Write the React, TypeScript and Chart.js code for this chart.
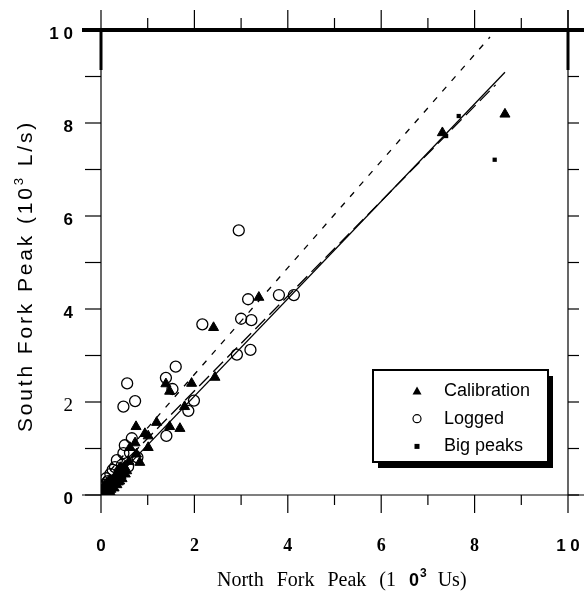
import React, { useEffect, useRef } from 'react';
import { Chart, registerables } from 'chart.js';

Chart.register(...registerables);

// Calibration (triangles)
const calibrationX = [8.65, 7.31, 3.38, 2.41, 2.44, 1.39, 1.47, 1.94, 1.79, 1.47, 1.69, 1.19, 0.75, 0.94, 1.01, 1.01, 0.62, 0.83, 0.76, 0.41, 0.73,
  0.05, 0.08, 0.1, 0.12, 0.15, 0.18, 0.19, 0.22, 0.26, 0.28, 0.3, 0.34, 0.36, 0.4, 0.41, 0.45, 0.48, 0.5, 0.55, 0.6, 0.07, 0.03, 0.2,
  0.02, 0.06, 0.09, 0.13, 0.16, 0.21, 0.24, 0.27, 0.31, 0.33, 0.37, 0.43, 0.52, 0.38, 0.46];
const calibrationY = [8.19, 7.79, 4.25, 3.6, 2.53, 2.39, 2.23, 2.4, 1.9, 1.47, 1.43, 1.56, 1.47, 1.32, 1.27, 1.02, 1.02, 0.7, 0.88, 0.59, 1.12,
  0.07, 0.12, 0.05, 0.18, 0.25, 0.1, 0.3, 0.2, 0.29, 0.15, 0.38, 0.22, 0.45, 0.3, 0.39, 0.35, 0.47, 0.6, 0.52, 0.72, 0.2, 0.1, 0.05,
  0.03, 0.15, 0.08, 0.1, 0.16, 0.12, 0.24, 0.35, 0.27, 0.33, 0.28, 0.42, 0.45, 0.52, 0.55];

// Logged (open circles)
const loggedX = [2.95, 3.15, 3.81, 4.13, 3.0, 3.22, 2.17, 2.91, 3.2, 1.6, 1.39, 1.53, 0.56, 0.48, 0.73, 1.99, 1.87, 1.4, 0.66, 0.51, 0.62, 0.34, 0.25, 0.58, 0.48, 0.11, 0.78,
  0.3, 0.2, 0.15, 0.4, 0.45, 0.08, 0.22, 0.05];
const loggedY = [5.69, 4.21, 4.3, 4.3, 3.79, 3.76, 3.67, 3.02, 3.12, 2.76, 2.52, 2.28, 2.4, 1.9, 2.02, 2.03, 1.81, 1.27, 1.22, 1.07, 0.91, 0.75, 0.54, 0.61, 0.9, 0.36, 0.81,
  0.6, 0.45, 0.3, 0.5, 0.65, 0.22, 0.3, 0.15];

// Big peaks (small squares)
const bigX = [7.66, 8.43, 7.39];
const bigY = [8.15, 7.21, 7.72];

// Fitted / reference lines (end points)
const solidX = [0, 8.65];
const solidY = [0.03, 9.09];
const longDashX = [0, 8.45];
const longDashY = [0.2, 8.82];
const shortDashX = [0, 8.33];
const shortDashY = [0.3, 9.85];

const tickValues = [0, 2, 4, 6, 8, 10];
const tickLabels = ['0', '2', '4', '6', '8', '1 0'];

const legendItems = ['Calibration', 'Logged', 'Big peaks'];

const toPts = (xs: number[], ys: number[]) => xs.map((x, i) => ({ x, y: ys[i] }));
const labelFor = (v: number) => {
  const i = tickValues.indexOf(v);
  return i >= 0 ? tickLabels[i] : '';
};

function drawMarker(ctx: CanvasRenderingContext2D, kind: number, x: number, y: number) {
  ctx.fillStyle = '#000';
  ctx.strokeStyle = '#000';
  if (kind === 0) {
    ctx.beginPath();
    ctx.moveTo(x, y - 4.5);
    ctx.lineTo(x + 4.5, y + 3.5);
    ctx.lineTo(x - 4.5, y + 3.5);
    ctx.closePath();
    ctx.fill();
  } else if (kind === 1) {
    ctx.lineWidth = 1.2;
    ctx.beginPath();
    ctx.arc(x, y, 4, 0, Math.PI * 2);
    ctx.stroke();
  } else {
    ctx.fillRect(x - 2.5, y - 2.5, 5, 5);
  }
}

const framePlugin = {
  id: 'frame',
  afterDraw(chart: any) {
    const { ctx, chartArea: a, scales } = chart;
    const xs = scales.x;
    const ys = scales.y;
    ctx.save();
    ctx.strokeStyle = '#000';
    ctx.lineCap = 'butt';
    const line = (x1: number, y1: number, x2: number, y2: number, w: number) => {
      ctx.lineWidth = w;
      ctx.beginPath();
      ctx.moveTo(x1, y1);
      ctx.lineTo(x2, y2);
      ctx.stroke();
    };
    line(82, a.bottom, 584, a.bottom, 1.2);
    line(a.left, a.top, a.left, a.bottom, 1.2);
    line(a.right, 10, a.right, a.bottom, 1.2);
    line(82, a.top, 584, a.top, 4);
    line(a.left, a.top, a.left, a.top + 40, 3);
    line(a.right, a.top, a.right, a.top + 40, 3);
    for (let v = 0; v <= 10; v++) {
      const major = v % 2 === 0;
      const px = xs.getPixelForValue(v);
      const py = ys.getPixelForValue(v);
      line(px, a.bottom, px, a.bottom + (major ? 18 : 10), 1.2);
      line(px, a.top, px, a.top - (major ? 20 : 12), 1.2);
      line(a.left - 16, py, a.left, py, 1.2);
      line(a.right, py, a.right + 11, py, 1.2);
    }

    // X title
    ctx.fillStyle = '#000';
    ctx.textBaseline = 'alphabetic';
    ctx.textAlign = 'left';
    const serif = '20px "Liberation Serif", "DejaVu Serif", serif';
    const pieces: [string, string][] = [
      ['North', serif], ['Fork', serif], ['Peak', serif], ['(1', serif], ['0', 'bold 18px "Liberation Sans", Arial, sans-serif'],
    ];
    let cx = 217;
    const by = 586;
    pieces.forEach(([t, f], i) => {
      ctx.font = f;
      ctx.fillText(t, cx, by);
      cx += ctx.measureText(t).width + (i === pieces.length - 1 ? 1 : 13);
    });
    ctx.font = 'bold 12px "Liberation Sans", Arial, sans-serif';
    ctx.fillText('3', cx, by - 9);
    cx += ctx.measureText('3').width + 11;
    ctx.font = serif;
    ctx.fillText('Us)', cx, by);

    // Y title (rotated), spread to span ~312px
    ctx.save();
    ctx.translate(32, 276);
    ctx.rotate(-Math.PI / 2);
    const sans = '21px "Liberation Sans", Arial, sans-serif';
    const small = '13px "Liberation Sans", Arial, sans-serif';
    const a1 = 'South Fork Peak (10';
    const a2 = ' L/s)';
    ctx.font = sans;
    const nChars = a1.length + a2.length + 1;
    const base = ctx.measureText(a1).width + ctx.measureText(a2).width + 7;
    const sp = Math.max(0, (312 - base) / nChars);
    (ctx as any).letterSpacing = sp + 'px';
    const w1 = ctx.measureText(a1).width;
    const w2 = ctx.measureText(a2).width;
    ctx.font = small;
    const w3 = ctx.measureText('3').width;
    const total = w1 + w2 + w3;
    let sx = -total / 2;
    ctx.font = sans;
    ctx.fillText(a1, sx, 0);
    sx += w1;
    ctx.font = small;
    ctx.fillText('3', sx, -9);
    sx += w3;
    ctx.font = sans;
    ctx.fillText(a2, sx, 0);
    (ctx as any).letterSpacing = '0px';
    ctx.restore();

    // Legend
    const lx = 373, ly = 370, lw = 175, lh = 92;
    ctx.fillStyle = '#000';
    ctx.fillRect(lx + 5, ly + 6, lw, lh);
    ctx.fillStyle = '#fff';
    ctx.fillRect(lx, ly, lw, lh);
    ctx.strokeStyle = '#000';
    ctx.lineWidth = 2;
    ctx.strokeRect(lx, ly, lw, lh);
    ctx.font = '18px "Liberation Sans", Arial, sans-serif';
    ctx.textBaseline = 'middle';
    legendItems.forEach((t, i) => {
      const yy = 391 + i * 27.7;
      drawMarker(ctx, i, 417, yy);
      ctx.fillStyle = '#000';
      ctx.fillText(t, 444, yy);
    });
    ctx.restore();
  },
};

export default function App() {
  const ref = useRef<HTMLCanvasElement | null>(null);
  useEffect(() => {
    document.body.style.margin = '0';
    if (!ref.current) return;
    const chart = new Chart(ref.current, {
      type: 'scatter',
      data: {
        datasets: [
          {
            type: 'line', label: 'solid', data: toPts(solidX, solidY) as any,
            borderColor: '#000', borderWidth: 1.3, pointRadius: 0, fill: false,
          } as any,
          {
            type: 'line', label: 'longdash', data: toPts(longDashX, longDashY) as any,
            borderColor: '#000', borderWidth: 1.3, borderDash: [14, 6], pointRadius: 0, fill: false,
          } as any,
          {
            type: 'line', label: 'shortdash', data: toPts(shortDashX, shortDashY) as any,
            borderColor: '#000', borderWidth: 1.3, borderDash: [6, 8], pointRadius: 0, fill: false,
          } as any,
          {
            label: 'Calibration', data: toPts(calibrationX, calibrationY),
            pointStyle: 'triangle', pointRadius: 5.8, backgroundColor: '#000', borderColor: '#000', borderWidth: 1,
          },
          {
            label: 'Logged', data: toPts(loggedX, loggedY),
            pointStyle: 'circle', pointRadius: 5.5, backgroundColor: 'rgba(255,255,255,0)', borderColor: '#000', borderWidth: 1.3,
          },
          {
            label: 'Big peaks', data: toPts(bigX, bigY),
            pointStyle: 'rect', pointRadius: 3, backgroundColor: '#000', borderColor: '#000', borderWidth: 0,
          },
        ],
      },
      options: {
        animation: false,
        responsive: false,
        devicePixelRatio: 1,
        layout: { padding: { top: 30, right: 16, left: 0, bottom: 0 } },
        plugins: { legend: { display: false }, tooltip: { enabled: false } },
        scales: {
          x: {
            type: 'linear', min: 0, max: 10,
            grid: { display: true, drawOnChartArea: false, drawTicks: true, tickLength: 41, color: 'rgba(0,0,0,0)' },
            border: { display: false },
            afterFit: (s: any) => { s.height = 101; },
            ticks: {
              stepSize: 2, padding: 0, color: '#000',
              callback: (v: any) => labelFor(Number(v)),
              font: (c: any) => {
                const v = c.tick ? c.tick.value : 0;
                if (v === 0 || v === 10) return { family: '"Liberation Sans", Arial, sans-serif', size: 17, weight: 'bold' };
                return { family: '"Liberation Serif", serif', size: 18, weight: 'bold' };
              },
            },
          },
          y: {
            type: 'linear', min: 0, max: 10,
            grid: { display: true, drawOnChartArea: false, drawTicks: true, tickLength: 28, color: 'rgba(0,0,0,0)' },
            border: { display: false },
            afterFit: (s: any) => { s.width = 101; },
            ticks: {
              stepSize: 2, padding: 0, labelOffset: 4, color: '#000',
              callback: (v: any) => labelFor(Number(v)),
              font: (c: any) => {
                const v = c.tick ? c.tick.value : 0;
                if (v === 2) return { family: '"Liberation Serif", serif', size: 19, weight: 'normal' };
                return { family: '"Liberation Sans", Arial, sans-serif', size: 17, weight: 'bold' };
              },
            },
          },
        },
      },
      plugins: [framePlugin],
    });
    return () => chart.destroy();
  }, []);
  return <canvas ref={ref} width={584} height={596} style={{ display: 'block' }} />;
}
